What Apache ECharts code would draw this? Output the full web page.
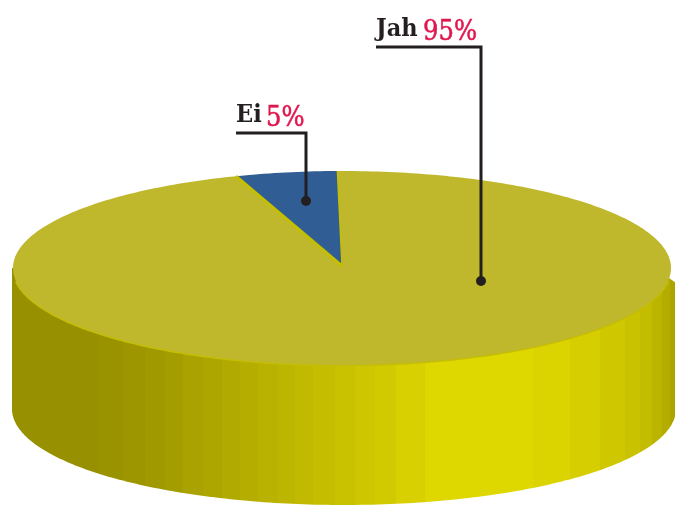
<!DOCTYPE html>
<html>
<head>
<meta charset="utf-8">
<style>
  html, body { margin: 0; padding: 0; background: #fff; }
  #chart { width: 675px; height: 505px; }
</style>
<script src="https://cdn.jsdelivr.net/npm/echarts@6/dist/echarts.min.js"></script>
</head>
<body>
<div id="chart"></div>
<script>
const categories = ["Jah", "Ei"];
const values = [95, 5];
const sliceColors = ["#bfb82c", "#2f5d94"];

// side wall shading: x where a band starts, and its colour
const bandStarts = [0, 97, 122, 145, 165, 183, 203, 222, 240, 258, 278, 295, 313, 335, 355, 375, 396, 425, 534, 570, 600, 625, 640, 652, 662, 670];
const bandColors = ["#979000", "#9a9300", "#9d9600", "#a09900", "#a49d00", "#a9a200", "#ada600", "#b1aa00", "#b5ae00", "#b9b200", "#bdb600", "#c1ba00", "#c5be00", "#c9c200", "#cdc600", "#d2ca00", "#d8d000", "#dfd700", "#dcd400", "#d6ce00", "#cfc800", "#c9c200", "#c3bc00", "#bcb500", "#b4ad00", "#aca500"];

// layout of the tilted disc
const cx = 342, cy = 268, rx = 329, ry = 97;
const wallCx = 344, wallRx = 332, wallBottomCy = 409, wallRy = 96;
const startDeg = -0.8;
const apexLift = 2;
const rimColor = "#c6be00";
// leader lines: dot, elbow height, left end of the shelf, where the percent starts
const leaders = [
  { dotX: 481, dotY: 281, shelfY: 47, shelfX: 376, percentX: 423 },
  { dotX: 306, dotY: 201, shelfY: 133, shelfX: 236, percentX: 266 }
];

const total = values.reduce((a, b) => a + b, 0);

function ellipsePoint(deg, ecx, ecy, erx, ery) {
  const a = deg * Math.PI / 180;
  return [ecx + erx * Math.sin(a), ecy - ery * Math.cos(a)];
}

function wallFill() {
  const W = 675, stops = [];
  bandStarts.forEach((x, i) => {
    const next = i + 1 < bandStarts.length ? bandStarts[i + 1] : W;
    stops.push({ offset: x / W, color: bandColors[i] });
    stops.push({ offset: next / W, color: bandColors[i] });
  });
  return { type: "linear", x: 0, y: 0, x2: W, y2: 0, global: true, colorStops: stops };
}

function wallShape() {
  const pts = [];
  for (let d = 270; d >= 90; d -= 1) {
    pts.push(ellipsePoint(d, wallCx, wallBottomCy, wallRx, wallRy));
  }
  pts.push([676, 283], [655, cy], [30, cy], [12, cy]);
  const rim = [];
  for (let d = 262; d >= 98; d -= 1) {
    rim.push(ellipsePoint(d, cx, cy, rx, ry));
  }
  return {
    type: "group",
    children: [
      { type: "polygon", z2: 0, shape: { points: pts }, style: { fill: wallFill() } },
      { type: "polyline", z2: 0, shape: { points: rim }, style: { stroke: rimColor, lineWidth: 2.5, fill: null } }
    ]
  };
}

function renderSlice(params, api) {
  const idx = params.dataIndex;
  let before = 0;
  for (let i = 0; i < idx; i++) before += values[i];
  const from = startDeg + (before / total) * 360;
  const to = from + (api.value(1) / total) * 360;
  const apex = [cx, cy - apexLift];
  const pts = [apex];
  for (let d = from; d < to; d += 1) pts.push(ellipsePoint(d, cx, cy, rx, ry));
  pts.push(ellipsePoint(to, cx, cy, rx, ry));

  const l = leaders[idx];
  const labelFont = "'DejaVu Serif Condensed', 'Liberation Serif', serif";
  const children = [
    {
      type: "polygon",
      z2: idx === 1 ? 2 : 1,
      shape: { points: pts },
      style: { fill: sliceColors[idx] }
    },
    {
      type: "polyline",
      z2: 5,
      shape: { points: [[l.dotX, l.dotY], [l.dotX, l.shelfY], [l.shelfX, l.shelfY]] },
      style: { stroke: "#231f20", lineWidth: 3, fill: null }
    },
    {
      type: "circle",
      z2: 6,
      shape: { cx: l.dotX, cy: l.dotY, r: 5 },
      style: { fill: "#231f20" }
    },
    {
      type: "text",
      z2: 6,
      x: l.shelfX,
      y: l.shelfY - 5,
      style: {
        text: categories[idx],
        verticalAlign: "bottom",
        font: "bold 25px " + labelFont,
        fill: "#231f20"
      }
    },
    {
      type: "text",
      z2: 6,
      x: l.percentX,
      y: l.shelfY - 1,
      style: {
        text: api.value(1) + "%",
        verticalAlign: "bottom",
        font: "27px " + labelFont,
        fill: "#e0174f",
        stroke: "#e0174f",
        lineWidth: 0.5
      }
    }
  ];
  if (idx === 1) {
    // yellow seam around the small slice's inner edges, heavier on its right side
    children.push({
      type: "polyline",
      z2: 3,
      shape: { points: [pts[pts.length - 1], apex] },
      style: { stroke: rimColor, lineWidth: 1.5, fill: null }
    });
    children.push({
      type: "polyline",
      z2: 3,
      shape: { points: [pts[1], apex] },
      style: { stroke: rimColor, lineWidth: 3, fill: null }
    });
  }
  return { type: "group", children: children };
}

const chart = echarts.init(document.getElementById("chart"), null, { renderer: "canvas" });
chart.setOption({
  backgroundColor: "#ffffff",
  animation: false,
  series: [
    {
      type: "custom",
      coordinateSystem: "none",
      silent: true,
      z: 1,
      data: [0],
      renderItem: wallShape
    },
    {
      type: "custom",
      coordinateSystem: "none",
      silent: true,
      z: 2,
      data: categories.map((c, i) => [c, values[i]]),
      encode: { itemName: 0, value: 1 },
      renderItem: renderSlice
    }
  ]
});
</script>
</body>
</html>
